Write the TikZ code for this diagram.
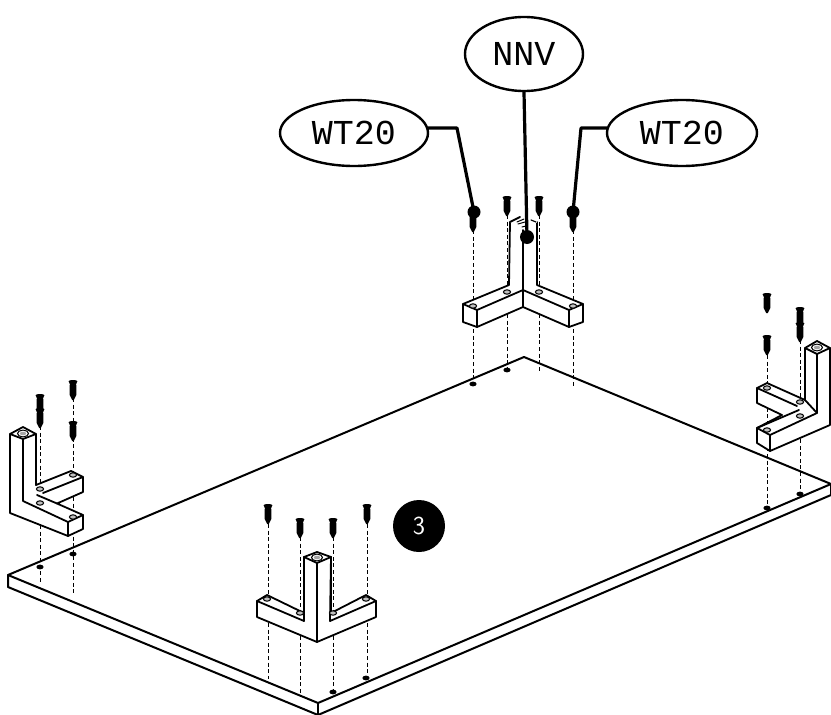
\documentclass[tikz,border=0pt]{standalone}
\usepackage{fontspec}
\newfontfamily\calloutfont{Liberation Mono}
\tikzset{
  ol/.style={draw=black,line width=1.8pt,line join=round,line cap=round},
  solid fillw/.style={ol,fill=white},
  board/.style={draw=black,line width=2pt,line join=round,fill=white},
  guide/.style={draw=black,line width=1pt,dash pattern=on 4pt off 2.6pt},
  hole/.style={draw=black,line width=1pt,fill=white!75!black},
  bdot/.style={fill=black},
  callout/.style={draw=black,line width=2.4pt,ellipse,fill=white,inner sep=0pt,font=\fontsize{35}{35}\selectfont\calloutfont},
  leader/.style={draw=black,line width=3.2pt,line join=round},
  ball/.style={circle,fill=black,inner sep=0pt,minimum size=14pt},
  screw/.pic={
    \fill[black] (-4.4,1.2) .. controls (-4.4,-0.4) and (4.4,-0.4) .. (4.4,1.2) .. controls (4.4,2.6) and (3,3) .. (3,4.4) -- (3.4,5.5) -- (3.3,15) -- (0.8,20) -- (-0.8,20) -- (-3.3,15) -- (-3.4,5.5) -- (-3,4.4) .. controls (-3,3) and (-4.4,2.6) .. (-4.4,1.2) -- cycle;
  }
}
\usetikzlibrary{shapes.geometric}
\begin{document}
\begin{tikzpicture}[x=1pt,y=-1pt]
\useasboundingbox (0,0) rectangle (831,715);
% board
\draw[board] (8,575) -- (524,357) -- (831,484) -- (831,495) -- (318,715) -- (8,587) -- cycle;
\draw[ol,line width=2pt] (8,575) -- (318,703) -- (831,484);
\draw[ol,line width=2pt] (318,703) -- (318,715);
% board holes
\foreach \x/\y in {473/384,507/370,767/508,800/494,333/692,366/678,40/567,73/554}
  \fill[bdot] (\x,\y) ellipse (3.6pt and 2.4pt);
% guides
\foreach \x/\a/\b in {473/230/384,507/215/368,539/215/372,573/230/386,
  767/355/506,800/340/492,40/426/582,73/398/595,
  268/524/679,300/537/693,333/537/690,367/524/676}
  \draw[guide] (\x,\a) -- (\x,\b);
% BACK FOOT
\draw[solid fillw] (463,304) -- (509,285) -- (510,222) -- (537,222) -- (537,285) -- (583,304) -- (583,322) -- (569,327) -- (523,307) -- (477,327) -- (463,322) -- cycle;
\draw[ol] (463,304) -- (477,310) -- (477,327);
\draw[ol] (477,310) -- (523,290) -- (569,310) -- (569,327);
\draw[ol] (569,310) -- (583,304);
\draw[ol] (523,230) -- (523,307);
\draw[draw=white,line width=3pt] (510,221) -- (537,221);
\draw[ol] (510,222) -- (520,217);
\draw[ol,line width=1pt] (517,222) -- (524,219) (518,224) -- (525,222) (522,227) -- (526,226);
\draw[ol,line width=1.2pt] (531,220) -- (536,222);
\foreach \x/\y in {473/306,507/292,539/292,573/306}
  \draw[hole] (\x,\y) ellipse (3.6pt and 2.2pt);
% LEFT FOOT
\draw[solid fillw] (10,434) -- (23,427) -- (36,434) -- (36,485) -- (71,471) -- (83,477) -- (83,492) -- (57,503.5) -- (83,515) -- (83,529) -- (68,536) -- (10,513) -- cycle;
\draw[ol] (10,434) -- (23,439) -- (36,434);
\draw[ol] (23,439) -- (23,501) -- (68,522) -- (68,536);
\draw[ol] (68,522) -- (83,515);
\draw[ol] (57,503.5) -- (37,495);
\draw[ol] (43,493) -- (83,477);
\foreach \x/\y in {40/489,40/503,73/475,73/517}
  \draw[hole] (\x,\y) ellipse (3.6pt and 2.2pt);
\draw[draw=black,line width=1pt] (23,433.5) ellipse (5.5pt and 3.4pt);
\fill[black!35] (23,433.5) ellipse (3.2pt and 1.8pt);
% RIGHT FOOT
\draw[solid fillw] (757,388) -- (767,383) -- (805,400) -- (805,348) -- (817,341) -- (830,348) -- (830,425) -- (770,451) -- (757,443) -- (757,428) -- (782,415) -- (757,403) -- cycle;
\draw[ol] (805,348) -- (817,354) -- (830,348);
\draw[ol] (817,354) -- (817,413) -- (770,435) -- (770,451);
\draw[ol] (757,428) -- (770,435);
\draw[ol] (757,428) -- (799,410);
\draw[ol] (757,388) -- (797,406);
\draw[ol] (805,400) -- (817,413);
\foreach \x/\y in {767/388,800/402,800/416,767/430}
  \draw[hole] (\x,\y) ellipse (3.6pt and 2.2pt);
\draw[draw=black,line width=1pt] (817,347.5) ellipse (5.5pt and 3.4pt);
\fill[black!35] (817,347.5) ellipse (3.2pt and 1.8pt);
% CENTRE FOOT
\draw[solid fillw] (257,601) -- (267,595) -- (304,613) -- (304,557) -- (317,552) -- (331,557) -- (331,613) -- (366,595) -- (376,601) -- (376,617) -- (317,642) -- (257,617) -- cycle;
\draw[ol] (304,557) -- (317,563) -- (331,557);
\draw[ol] (317,563) -- (317,642);
\draw[ol] (304,557) -- (304,621);
\draw[ol] (331,557) -- (330,621);
\draw[ol] (257,601) -- (304,621);
\draw[ol] (376,601) -- (330,621);
\foreach \x/\y in {267/599,300/613,333/613,366/599}
  \draw[hole] (\x,\y) ellipse (3.6pt and 2.2pt);
\draw[draw=black,line width=1pt] (317,557.5) ellipse (5.5pt and 3.4pt);
\fill[black!35] (317,557.5) ellipse (3.2pt and 1.8pt);
% screws
\foreach \x/\y in {473/212,507/196,539/196,573/212,
  767/293,767/335,800/307,800/322,
  40/394,40/408,73/380,73/421,
  268/504,300/518,333/518,367/504}
  \pic at (\x,\y) {screw};
% callouts
\node[callout,minimum width=148pt,minimum height=66pt] (wl) at (354,133) {WT20};
\node[callout,minimum width=118pt,minimum height=74pt] (nn) at (524,54) {NNV};
\node[callout,minimum width=150pt,minimum height=66pt] (wr) at (682,133) {WT20};
\node[ball,minimum size=13pt] (bl) at (474,212) {};
\node[ball] (bm) at (527,237) {};
\node[ball,minimum size=13pt] (br) at (573,212) {};
\coordinate (kl) at (457,128);
\coordinate (kr) at (581,128);
\draw[leader] (wl.east |- kl) ++(-1,0) -- (kl) -- (bl.center);
\draw[leader] (nn.south) -- (bm.center);
\draw[leader] (wr.west |- kr) ++(1,0) -- (kr) -- (br.center);
% step number
\node[circle,fill=black,text=white,inner sep=0pt,minimum size=52pt,font=\fontsize{26}{26}\selectfont\sffamily] (stepno) at (419,526) {3};
\end{tikzpicture}
\end{document}
